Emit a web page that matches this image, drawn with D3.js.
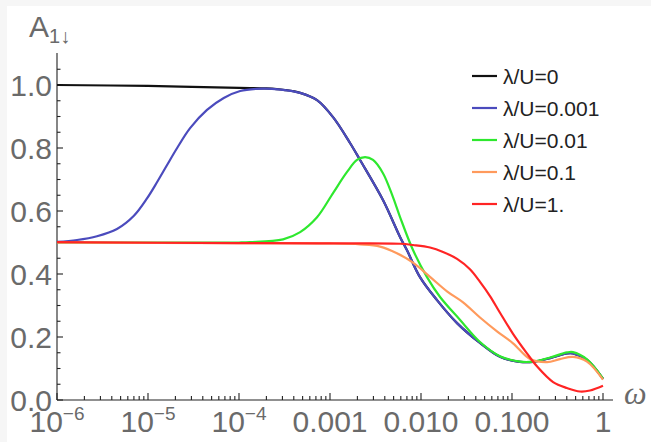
<!DOCTYPE html>
<html lang="en">
<head>
  <meta charset="UTF-8">
  <title>A 1 down</title>
  <script src="https://d3js.org/d3.v7.min.js"></script>
  <style>
    body { margin: 0; background: #f6f6f6; }
    svg { display: block; }
  </style>
</head>
<body>
  <svg id="chart" width="651" height="442"></svg>

  <script>
    // series: frequency omega and A value
    const blackW = [1e-6, 1e-5, 1e-4, 2e-4, 3.2e-4, 4.7e-4, 7.2e-4, 1.08e-3, 1.66e-3, 2.14e-3, 3.82e-3, 5.9e-3, 7.0e-3, 9.75e-3, 0.015, 0.0249, 0.0445, 0.0738, 0.122, 0.17, 0.262, 0.402, 0.468, 0.667, 1.0];
    const blackA = [1.0, 0.997, 0.991, 0.989, 0.984, 0.975, 0.952, 0.898, 0.816, 0.762, 0.635, 0.517, 0.476, 0.39, 0.317, 0.244, 0.181, 0.137, 0.121, 0.121, 0.133, 0.148, 0.148, 0.127, 0.067];

    const blueW = [1e-6, 1.66e-6, 2.75e-6, 4.56e-6, 7.0e-6, 9.75e-6, 1.26e-5, 1.62e-5, 2.09e-5, 2.9e-5, 4.45e-5, 6.8e-5, 1.03e-4, 1.58e-4, 2.3e-4, 3.2e-4, 4.7e-4, 7.2e-4, 1.08e-3, 1.66e-3, 2.14e-3, 3.82e-3, 5.9e-3, 7.0e-3, 9.75e-3, 0.015, 0.0249, 0.0445, 0.0738, 0.122, 0.17, 0.262, 0.402, 0.468, 0.667, 1.0];
    const blueA = [0.502, 0.508, 0.52, 0.543, 0.585, 0.64, 0.692, 0.746, 0.8, 0.863, 0.921, 0.959, 0.981, 0.988, 0.988, 0.984, 0.975, 0.952, 0.898, 0.816, 0.762, 0.635, 0.517, 0.476, 0.39, 0.317, 0.244, 0.181, 0.137, 0.121, 0.121, 0.133, 0.148, 0.148, 0.127, 0.067];

    const greenW = [1e-6, 1e-5, 1e-4, 1.32e-4, 3.05e-4, 4.7e-4, 7.2e-4, 1.08e-3, 1.54e-3, 1.98e-3, 2.43e-3, 2.97e-3, 3.82e-3, 4.92e-3, 5.9e-3, 8.17e-3, 0.01164, 0.0162, 0.0269, 0.0445, 0.0738, 0.122, 0.17, 0.262, 0.402, 0.468, 0.667, 1.0];
    const greenA = [0.5, 0.5, 0.5, 0.501, 0.51, 0.533, 0.58, 0.657, 0.724, 0.762, 0.771, 0.762, 0.72, 0.644, 0.58, 0.476, 0.39, 0.327, 0.254, 0.184, 0.139, 0.122, 0.122, 0.135, 0.151, 0.152, 0.129, 0.068];

    const orangeW = [1e-6, 1e-4, 1e-3, 2.14e-3, 3.55e-3, 5.44e-3, 8.17e-3, 0.01256, 0.0193, 0.029, 0.0445, 0.0684, 0.1026, 0.158, 0.243, 0.336, 0.468, 0.667, 1.0];
    const orangeA = [0.5, 0.498, 0.497, 0.494, 0.487, 0.466, 0.436, 0.391, 0.345, 0.31, 0.262, 0.218, 0.18, 0.13, 0.12, 0.13, 0.137, 0.122, 0.065];

    const redW = [1e-6, 1e-4, 1e-3, 5.9e-3, 8.17e-3, 0.01256, 0.01746, 0.0249, 0.0345, 0.0445, 0.0573, 0.0738, 0.1026, 0.146, 0.188, 0.283, 0.402, 0.558, 0.72, 1.0];
    const redA = [0.501, 0.498, 0.497, 0.496, 0.492, 0.484, 0.47, 0.448, 0.415, 0.375, 0.33, 0.277, 0.21, 0.148, 0.107, 0.057, 0.038, 0.027, 0.03, 0.045];

    const seriesNames = ["λ/U=0", "λ/U=0.001", "λ/U=0.01", "λ/U=0.1", "λ/U=1."];
    const seriesColors = ["#111111", "#4b4bbd", "#2ee82e", "#ff9a5c", "#ff2424"];
    const seriesW = [blackW, blueW, greenW, orangeW, redW];
    const seriesA = [blackA, blueA, greenA, orangeA, redA];

    const xTickValues = [1e-6, 1e-5, 1e-4, 1e-3, 1e-2, 1e-1, 1];
    const xTickLabels = ["10", "10", "10", "0.001", "0.010", "0.100", "1"];
    const xTickExps = ["−6", "−5", "−4", "", "", "", ""];
    const yTickValues = [0, 0.2, 0.4, 0.6, 0.8, 1.0];
    const yTickLabels = ["0.0", "0.2", "0.4", "0.6", "0.8", "1.0"];

    const svg = d3.select("#chart");
    const labelGray = "#6a6a6a";
    const font = "'Liberation Sans', Arial, sans-serif";

    svg.append("rect")
      .attr("x", 7).attr("y", 6)
      .attr("width", 644).attr("height", 436)
      .attr("fill", "#fff");

    const x = d3.scaleLog().domain([1e-6, 1]).range([57, 603]);
    const y = d3.scaleLinear().domain([0, 1.1]).range([400, 53.5]);

    // minor ticks
    const xMinor = [];
    for (let e = -6; e < 0; e++) {
      for (let k = 2; k <= 9; k++) xMinor.push(k * Math.pow(10, e));
    }
    const yMinor = d3.range(0.05, 1.06, 0.05).filter(v => Math.abs(v * 5 - Math.round(v * 5)) > 1e-6);

    const axes = svg.append("g").attr("stroke", "#222").attr("stroke-width", 1.1);

    axes.append("line").attr("x1", 57).attr("x2", 613).attr("y1", 400).attr("y2", 400);
    axes.append("line").attr("x1", 57).attr("x2", 57).attr("y1", 400).attr("y2", 53);

    axes.selectAll(".xmaj").data(xTickValues).join("line")
      .attr("x1", d => x(d)).attr("x2", d => x(d))
      .attr("y1", 400).attr("y2", 393);
    axes.selectAll(".xmin").data(xMinor).join("line")
      .attr("x1", d => x(d)).attr("x2", d => x(d))
      .attr("y1", 400).attr("y2", 396);
    axes.selectAll(".ymaj").data(yTickValues).join("line")
      .attr("x1", 57).attr("x2", 63)
      .attr("y1", d => y(d)).attr("y2", d => y(d));
    axes.selectAll(".ymin").data(yMinor).join("line")
      .attr("x1", 57).attr("x2", 60.5)
      .attr("y1", d => y(d)).attr("y2", d => y(d));

    // tick labels
    const xl = svg.append("g")
      .attr("font-family", font).attr("font-size", 30).attr("fill", labelGray);
    xTickValues.forEach((v, i) => {
      const t = xl.append("text")
        .attr("x", x(v)).attr("y", 432)
        .attr("text-anchor", "middle");
      t.append("tspan").text(xTickLabels[i]);
      if (xTickExps[i]) {
        t.append("tspan").attr("dy", -12).attr("font-size", 19).text(xTickExps[i]);
      }
    });

    svg.append("g")
      .attr("font-family", font).attr("font-size", 30).attr("fill", labelGray)
      .selectAll("text").data(yTickValues).join("text")
      .attr("x", 52).attr("y", d => y(d) + 11)
      .attr("text-anchor", "end")
      .text((d, i) => yTickLabels[i]);

    // axis titles
    const at = svg.append("text")
      .attr("x", 29).attr("y", 37)
      .attr("font-family", font).attr("font-size", 30).attr("fill", labelGray);
    at.append("tspan").text("A");
    at.append("tspan").attr("dy", 6).attr("font-size", 20).text("1↓");

    svg.append("text")
      .attr("x", 624).attr("y", 404)
      .attr("font-family", "'Liberation Serif', serif").attr("font-style", "italic")
      .attr("font-size", 32).attr("fill", labelGray)
      .text("ω");

    // curves
    const line = d3.line()
      .x(d => x(d[0]))
      .y(d => y(d[1]))
      .curve(d3.curveCatmullRom.alpha(0.5));

    seriesW.forEach((ws, i) => {
      const pts = ws.map((w, j) => [w, seriesA[i][j]]);
      svg.append("path")
        .attr("d", line(pts))
        .attr("fill", "none")
        .attr("stroke", seriesColors[i])
        .attr("stroke-width", 2.2)
        .attr("stroke-linejoin", "round");
    });

    // legend
    const legend = svg.append("g").attr("font-family", font).attr("font-size", 21).attr("fill", "#222");
    seriesNames.forEach((name, i) => {
      const cy = 76 + i * 32;
      legend.append("line")
        .attr("x1", 472).attr("x2", 497)
        .attr("y1", cy).attr("y2", cy)
        .attr("stroke", seriesColors[i]).attr("stroke-width", 2.2);
      legend.append("text")
        .attr("x", 503).attr("y", cy + 7.5)
        .text(name);
    });
  </script>
</body>
</html>
